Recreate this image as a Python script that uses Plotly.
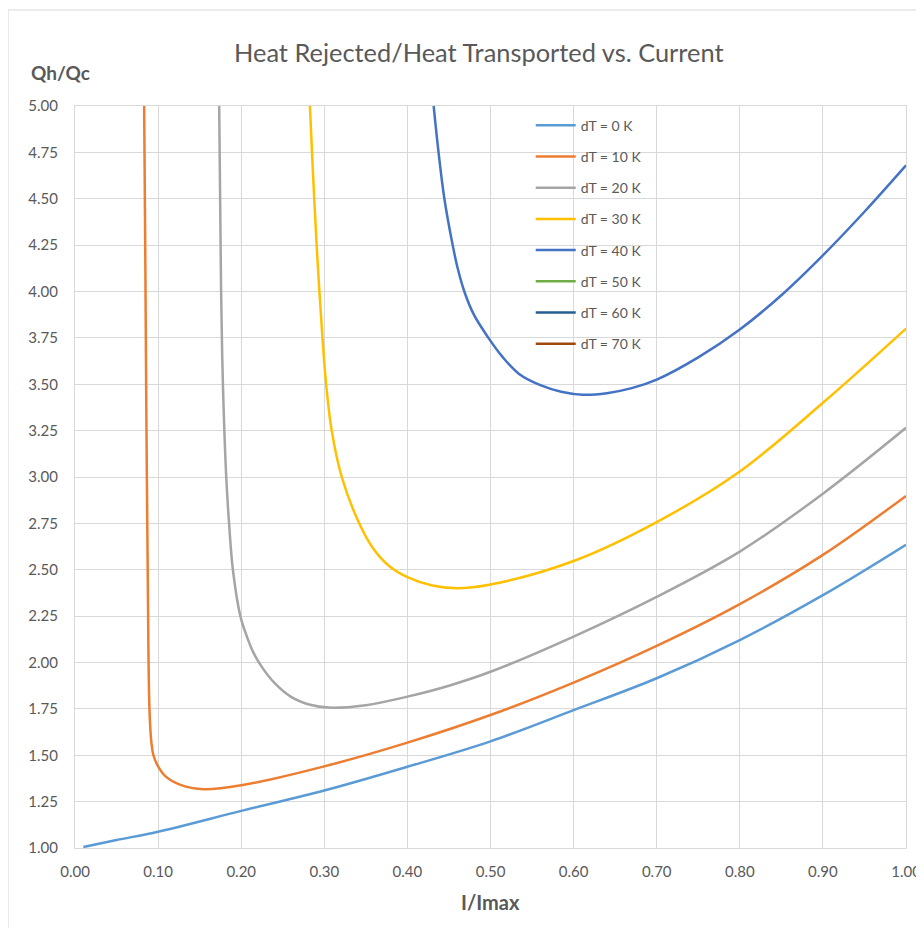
import plotly.graph_objects as go

# ---- data ----
dt0_x = [0.01, 0.05, 0.10, 0.20, 0.30, 0.40, 0.50, 0.60, 0.70, 0.80, 0.90, 1.00]
dt0_y = [1.005, 1.043, 1.088, 1.200, 1.310, 1.438, 1.575, 1.743, 1.915, 2.121, 2.363, 2.635]

dt10_x = [0.0832, 0.0845, 0.0856, 0.0875, 0.0896, 0.0920, 0.0944, 0.100, 0.109, 0.127, 0.155, 0.20, 0.30, 0.40, 0.50, 0.60, 0.70, 0.80, 0.90, 1.00]
dt10_y = [5.00, 4.25, 3.50, 2.50, 1.75, 1.565, 1.50, 1.44, 1.386, 1.34, 1.317, 1.338, 1.44, 1.568, 1.717, 1.892, 2.09, 2.315, 2.58, 2.898]

dt20_x = [0.1735, 0.1758, 0.178, 0.182, 0.1854, 0.190, 0.199, 0.206, 0.214, 0.225, 0.240, 0.260, 0.283, 0.305, 0.35, 0.40, 0.45, 0.50, 0.60, 0.70, 0.80, 0.90, 1.00]
dt20_y = [5.00, 4.00, 3.50, 3.00, 2.75, 2.50, 2.25, 2.15, 2.06, 1.975, 1.89, 1.815, 1.772, 1.757, 1.77, 1.816, 1.875, 1.95, 2.14, 2.354, 2.598, 2.91, 3.265]

dt30_x = [0.2827, 0.2852, 0.2879, 0.2908, 0.2941, 0.2978, 0.3022, 0.3089, 0.321, 0.341, 0.358, 0.378, 0.40, 0.43, 0.46, 0.50, 0.60, 0.70, 0.80, 0.90, 1.00]
dt30_y = [5.00, 4.75, 4.50, 4.25, 4.00, 3.75, 3.50, 3.25, 3.00, 2.76, 2.62, 2.52, 2.46, 2.415, 2.40, 2.42, 2.547, 2.757, 3.03, 3.40, 3.80]

dt40_x = [0.4316, 0.4375, 0.4445, 0.4545, 0.4605, 0.4685, 0.480, 0.4975, 0.514, 0.534, 0.560, 0.585, 0.611, 0.64, 0.67, 0.70, 0.75, 0.80, 0.85, 0.90, 0.95, 1.00]
dt40_y = [5.00, 4.75, 4.50, 4.25, 4.125, 4.00, 3.875, 3.75, 3.65, 3.557, 3.495, 3.46, 3.444, 3.452, 3.479, 3.525, 3.645, 3.795, 3.98, 4.195, 4.43, 4.68]

series_names = ["dT = 0 K", "dT = 10 K", "dT = 20 K", "dT = 30 K", "dT = 40 K", "dT = 50 K", "dT = 60 K", "dT = 70 K"]
series_colors = ["#5B9BD5", "#ED7D31", "#A5A5A5", "#FFC000", "#4472C4", "#70AD47", "#255E91", "#9E480E"]
series_x = [dt0_x, dt10_x, dt20_x, dt30_x, dt40_x, [None], [None], [None]]
series_y = [dt0_y, dt10_y, dt20_y, dt30_y, dt40_y, [None], [None], [None]]

x_ticks = [0.0, 0.1, 0.2, 0.3, 0.4, 0.5, 0.6, 0.7, 0.8, 0.9, 1.0]
y_ticks = [1.00, 1.25, 1.50, 1.75, 2.00, 2.25, 2.50, 2.75, 3.00, 3.25, 3.50, 3.75, 4.00, 4.25, 4.50, 4.75, 5.00]

TXT = "#595959"
GRID = "#D9D9D9"
FONT = "Lato"

fig = go.Figure()
for name, col, xs, ys in zip(series_names, series_colors, series_x, series_y):
    fig.add_trace(go.Scatter(
        x=xs, y=ys, name=name, mode="lines", legendgroup=name,
        line=dict(color=col, width=2.5, shape="spline", smoothing=1.0),
    ))

fig.update_layout(
    width=916, height=920,
    margin=dict(l=67, r=18, t=98, b=80, autoexpand=False),
    paper_bgcolor="white", plot_bgcolor="white",
    font=dict(family=FONT, color=TXT, size=15),
    showlegend=True,
    legend=dict(
        x=0.5484, y=0.995, xanchor="left", yanchor="top",
        bgcolor="rgba(0,0,0,0)", font=dict(size=14, color=TXT, family=FONT),
        traceorder="grouped", tracegroupgap=10, itemwidth=40,
    ),
    xaxis=dict(
        range=[0, 1], tickmode="array", tickvals=x_ticks, tickformat=".2f",
        showgrid=True, gridcolor=GRID, gridwidth=1, zeroline=False,
        showline=True, linecolor=GRID, linewidth=1, mirror=True, automargin=False,
        ticks="", tickfont=dict(size=15, color=TXT), ticklabelstandoff=10,
    ),
    yaxis=dict(
        range=[1, 5], tickmode="array", tickvals=y_ticks, tickformat=".2f",
        showgrid=True, gridcolor=GRID, gridwidth=1, zeroline=False,
        showline=True, linecolor=GRID, linewidth=1, mirror=True, automargin=False,
        ticks="", tickfont=dict(size=15, color=TXT), ticklabelstandoff=13,
    ),
    annotations=[
        dict(text="Heat Rejected/Heat Transported vs. Current", x=0.4865, y=1.0728,
             xref="paper", yref="paper", xanchor="center", yanchor="middle",
             showarrow=False, font=dict(size=25.4, color=TXT, family=FONT)),
        dict(text="<b>Qh/Qc</b>", x=-0.0554, y=1.0458, xref="paper", yref="paper",
             xanchor="left", yanchor="middle", showarrow=False,
             font=dict(size=19, color=TXT, family=FONT)),
        dict(text="<b>I/Imax</b>", x=0.5, y=-0.0728, xref="paper", yref="paper",
             xanchor="center", yanchor="middle", showarrow=False,
             font=dict(size=20, color=TXT, family=FONT)),
    ],
    shapes=[
        dict(type="rect", xref="paper", yref="paper",
             x0=-0.0806, y0=-0.117, x1=1.03, y1=1.1294,
             line=dict(color=GRID, width=1), fillcolor="rgba(0,0,0,0)", layer="below"),
    ],
)

fig.write_html("out.html")
